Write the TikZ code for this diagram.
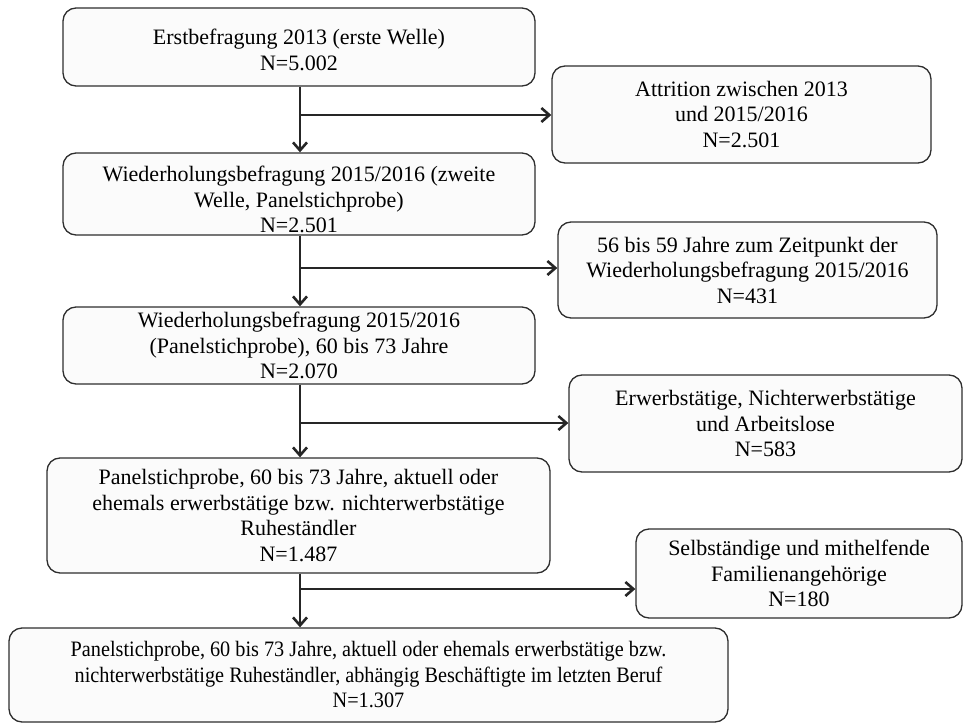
\documentclass[tikz,border=0pt]{standalone}
\usepackage{fontspec}
\setmainfont{Liberation Serif}
\usetikzlibrary{arrows.meta}
\definecolor{boxline}{HTML}{2E2E2E}
\definecolor{boxfill}{HTML}{FBFBFB}
\definecolor{arrowcol}{HTML}{262626}
\newcommand{\lowertext}[2]{\raisebox{\dimexpr-#1-5.5pt\relax}[0pt][0pt]{\begin{tabular}{@{}c@{}}#2\end{tabular}}}
\tikzset{
  flowbox/.style={draw=boxline, fill=boxfill, line width=1.3pt, rounded corners=13pt,
    align=center, inner sep=2pt, font=\fontsize{22}{25.5}\selectfont},
  flowarrow/.style={draw=arrowcol, line width=2.6pt,
    -{Straight Barb[length=8pt,width=14pt,line width=2.6pt]}},
}
\begin{document}
\begin{tikzpicture}[x=1pt,y=-1pt]
\useasboundingbox (0,0) rectangle (964,725);
\node[flowbox, minimum width=472, minimum height=78] (b1) at (299,47)
  {\lowertext{5pt}{Erstbefragung 2013 (erste Welle)\\N=5.002}};
\node[flowbox, minimum width=379, minimum height=97] (sA) at (741.5,114.5)
  {Attrition zwischen 2013\\und 2015/2016\\N=2.501};
\node[flowbox, minimum width=472, minimum height=82] (b2) at (299,194)
  {\lowertext{8pt}{Wiederholungsbefragung 2015/2016 (zweite\\Welle, Panelstichprobe)\\N=2.501}};
\node[flowbox, minimum width=379, minimum height=96] (sB) at (747.5,270)
  {56 bis 59 Jahre zum Zeitpunkt der\\Wiederholungsbefragung 2015/2016\\N=431};
\node[flowbox, minimum width=472, minimum height=77] (b3) at (299,345.5)
  {Wiederholungsbefragung 2015/2016\\(Panelstichprobe), 60 bis 73 Jahre\\N=2.070};
\node[flowbox, minimum width=393, minimum height=97] (sC) at (765.5,423.5)
  {Erwerbstätige, Nichterwerbstätige\\und Arbeitslose\\N=583};
\node[flowbox, minimum width=503, minimum height=115] (b4) at (298.5,515.5)
  {Panelstichprobe, 60 bis 73 Jahre, aktuell oder\\ehemals erwerbstätige bzw. nichterwerbstätige\\Ruheständler\\N=1.487};
\node[flowbox, minimum width=326, minimum height=89] (sD) at (799,573.5)
  {Selbständige und mithelfende\\Familienangehörige\\N=180};
\node[flowbox, minimum width=719, minimum height=94,
      font=\fontsize{22}{25.5}\selectfont\addfontfeatures{FakeStretch=0.92}] (b5) at (368.5,675)
  {Panelstichprobe, 60 bis 73 Jahre, aktuell oder ehemals erwerbstätige bzw.\\nichterwerbstätige Ruheständler, abhängig Beschäftigte im letzten Beruf\\N=1.307};
\coordinate (v) at (300,0);
\coordinate (j1) at (300,115);
\coordinate (j2) at (300,268);
\coordinate (j3) at (300,423);
\coordinate (j4) at (300,589);
\draw[flowarrow] (b1.south -| v) -- (b2.north -| v);
\draw[flowarrow] (b2.south -| v) -- (b3.north -| v);
\draw[flowarrow] (b3.south -| v) -- (b4.north -| v);
\draw[flowarrow] (b4.south -| v) -- (b5.north -| v);
\draw[flowarrow] (j1) -- (j1 -| sA.west);
\draw[flowarrow] (j2) -- (j2 -| sB.west);
\draw[flowarrow] (j3) -- (j3 -| sC.west);
\draw[flowarrow] (j4) -- (j4 -| sD.west);
\end{tikzpicture}
\end{document}
